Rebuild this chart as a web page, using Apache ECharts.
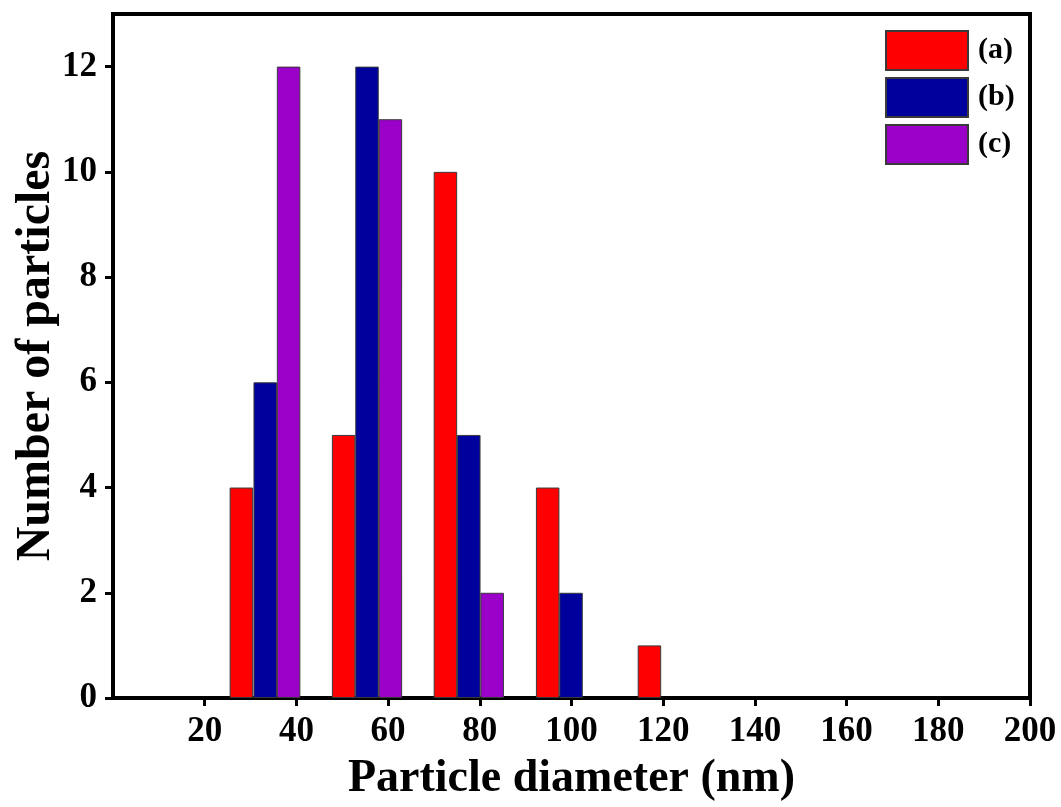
<!DOCTYPE html>
<html>
<head>
<meta charset="utf-8">
<script src="https://cdn.jsdelivr.net/npm/echarts@6/dist/echarts.min.js"></script>
<style>
html,body{margin:0;padding:0;background:#fff;}
#chart{width:1061px;height:807px;}
</style>
</head>
<body>
<div id="chart"></div>
<script>
// Bin centres (nm) and counts for each sample
const xA = [28.0, 50.3, 72.5, 94.8, 117.0];
const yA = [4, 5, 10, 4, 1];
const xB = [33.2, 55.4, 77.6, 99.9];
const yB = [6, 12, 5, 2];
const xC = [38.3, 60.5, 82.7];
const yC = [12, 11, 2];
const seriesNames = ['(a)', '(b)', '(c)'];
const xTicks = [20, 40, 60, 80, 100, 120, 140, 160, 180, 200];
const yTicks = [0, 2, 4, 6, 8, 10, 12];

const font = "'Liberation Serif', 'Times New Roman', serif";
const colors = ['#ff0000', '#00009c', '#9b00c8'];

function pairs(xs, ys) { return xs.map((x, i) => [x, ys[i]]); }

const chart = echarts.init(document.getElementById('chart'), null, {renderer: 'canvas'});
const mkSeries = (name, data, color) => ({
  name: name,
  type: 'bar',
  data: data,
  barWidth: 23.5,
  barGap: '-100%',
  itemStyle: {color: color, borderColor: '#3a3a3a', borderWidth: 1},
  emphasis: {disabled: true}
});

chart.setOption({
  animation: false,
  backgroundColor: '#fff',
  grid: {left: 113, right: 31, top: 14, bottom: 109, show: true, borderColor: '#000', borderWidth: 4, containLabel: false, outerBoundsMode: 'none'},
  legend: {
    orient: 'vertical',
    left: 885, top: 30,
    itemWidth: 82, itemHeight: 39, itemGap: 6,
    padding: 0,
    icon: 'rect',
    textStyle: {fontFamily: font, fontWeight: 'bold', fontSize: 30, color: '#000', padding: [0, 0, 0, 5]},
    data: seriesNames
  },
  xAxis: {
    type: 'value', min: 0, max: 200,
    name: 'Particle diameter (nm)', nameLocation: 'middle', nameGap: 58, nameMoveOverlap: false,
    nameTextStyle: {fontFamily: font, fontWeight: 'bold', fontSize: 46, color: '#000'},
    axisLine: {show: true, onZero: false, lineStyle: {color: '#000', width: 4}},
    axisTick: {show: true, inside: false, length: 8, lineStyle: {color: '#000', width: 3}, customValues: xTicks},
    axisLabel: {fontFamily: font, fontWeight: 'bold', fontSize: 35, color: '#000', margin: 16, customValues: xTicks},
    splitLine: {show: false}
  },
  yAxis: {
    type: 'value', min: 0, max: 13,
    name: 'Number of particles', nameLocation: 'middle', nameGap: 52, nameMoveOverlap: false,
    nameTextStyle: {fontFamily: font, fontWeight: 'bold', fontSize: 48, color: '#000'},
    axisLine: {show: true, lineStyle: {color: '#000', width: 4}},
    axisTick: {show: true, inside: false, length: 8, lineStyle: {color: '#000', width: 3}, customValues: yTicks},
    axisLabel: {fontFamily: font, fontWeight: 'bold', fontSize: 35, color: '#000', margin: 16, customValues: yTicks},
    splitLine: {show: false}
  },
  series: [
    mkSeries(seriesNames[0], pairs(xA, yA), colors[0]),
    mkSeries(seriesNames[1], pairs(xB, yB), colors[1]),
    mkSeries(seriesNames[2], pairs(xC, yC), colors[2])
  ]
});
</script>
</body>
</html>
